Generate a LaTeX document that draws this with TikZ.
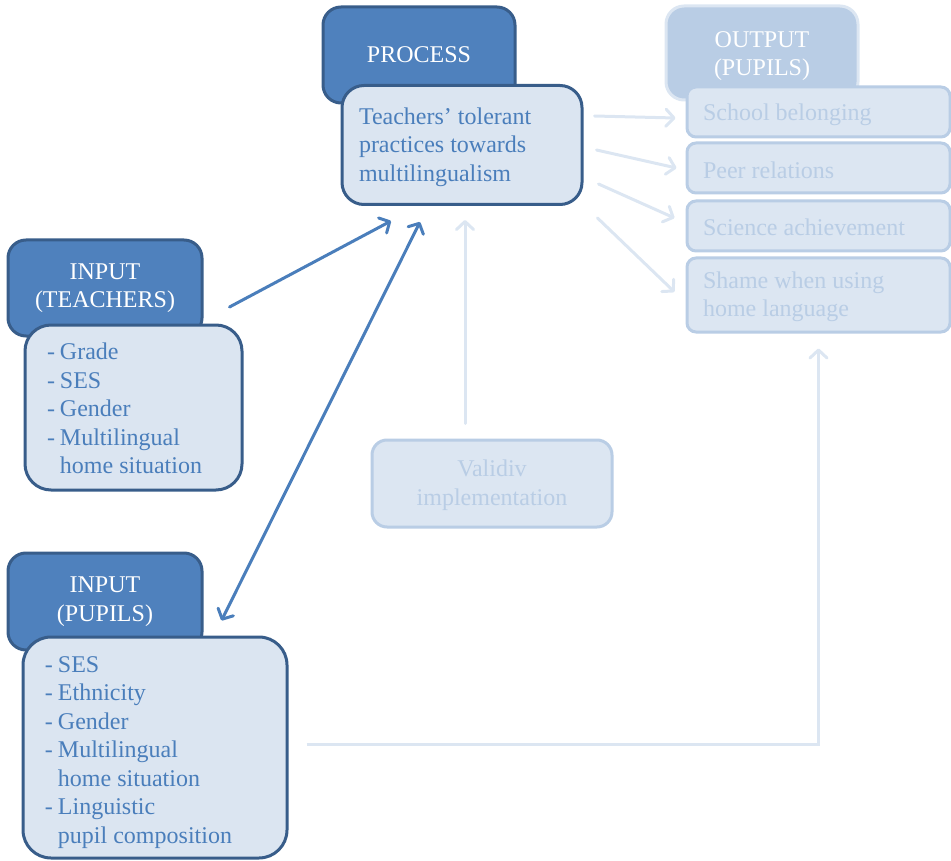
\documentclass[tikz,border=0pt]{standalone}
\usepackage{fontspec}
\setmainfont{Liberation Serif}
\usetikzlibrary{arrows.meta,calc}
\definecolor{hdfill}{HTML}{4F81BD}
\definecolor{hdline}{HTML}{385D8A}
\definecolor{bxfill}{HTML}{DBE5F1}
\definecolor{bxtext}{HTML}{4A7EBB}
\definecolor{fdfill}{HTML}{B9CDE5}
\definecolor{fdline}{HTML}{DCE6F2}
\definecolor{fdtext}{HTML}{B9CDE5}
\newcommand\itm{\makebox[13pt][l]{-}}
\newcommand\cnt{\hspace*{13pt}}
% left-aligned text block of a given width, drawn lower than its box by a given amount
\newcommand\lowblock[3]{\raisebox{-#1}[\height][\depth]{\parbox{#2}{\raggedright #3}}}
\newcommand\lowcenter[2]{\raisebox{-#1}[\height][\depth]{\begin{tabular}{@{}c@{}}#2\end{tabular}}}
\begin{document}
\begin{tikzpicture}[x=1pt,y=-1pt,
  txt/.style={font=\fontsize{24}{28.5}\selectfont},
  header/.style={txt,draw=hdline,fill=hdfill,line width=3pt,rounded corners=18pt,
    text=white,align=center,inner sep=0pt},
  content/.style={txt,draw=hdline,fill=bxfill,line width=3pt,
    text=bxtext,align=left,inner sep=0pt},
  fheader/.style={header,draw=fdline,fill=fdfill},
  fcontent/.style={content,draw=fdfill,fill=fdline,text=fdtext},
  outbox/.style={fcontent,rounded corners=9pt,minimum width=263,minimum height=50},
  link/.style={draw=bxtext,line width=3pt,line cap=round,
    -{Straight Barb[length=8pt,width=17pt,line cap=round,line join=round]}},
  flink/.style={link,draw=fdline}]
\useasboundingbox (0,0) rectangle (951,861);

% process block
\node[header,minimum width=192,minimum height=96] (pdark) at (419,55) {PROCESS};
\node[content,rounded corners=22pt,minimum width=240,minimum height=119]
  (plight) at (462,145) {\lowblock{2pt}{206pt}{Teachers' tolerant\\practices towards\\multilingualism}};

% output block
\node[fheader,minimum width=192,minimum height=94] (odark) at (762,53)
  {\lowcenter{3pt}{OUTPUT\\(PUPILS)}};
\node[outbox] (o1) at (818.5,112) {\lowblock{3pt}{231pt}{School belonging}};
\node[outbox] (o2) at (818.5,168) {\lowblock{2pt}{231pt}{Peer relations}};
\node[outbox] (o3) at (818.5,226) {\lowblock{1pt}{231pt}{Science achievement}};
\node[outbox,minimum height=74] (o4) at (818.5,295)
  {\lowblock{2pt}{231pt}{Shame when using\\home language}};

% teacher input block
\node[header,minimum width=194,minimum height=96] (tdark) at (105,288) {INPUT\\(TEACHERS)};
\node[content,rounded corners=26pt,minimum width=217,minimum height=165]
  (tlight) at (133.5,407.5)
  {\lowblock{1pt}{173pt}{\itm Grade\\\itm SES\\\itm Gender\\\itm Multilingual\\\cnt home situation}};

% pupil input block
\node[header,minimum width=194,minimum height=97] (udark) at (105,601.5) {INPUT\\(PUPILS)};
\node[content,rounded corners=28pt,minimum width=264,minimum height=221]
  (ulight) at (155,747.5)
  {\lowblock{5pt}{220pt}{\itm SES\\\itm Ethnicity\\\itm Gender\\\itm Multilingual\\\cnt home situation\\\itm Linguistic\\\cnt pupil composition}};

% implementation block
\node[fcontent,rounded corners=15pt,minimum width=240,minimum height=87]
  (valid) at (492,483.5) {\lowcenter{2pt}{Validiv\\implementation}};

% connectors
\draw[link] ($(tdark.east)+(26,19)$) -- ($(plight.south)+(-71,15)$);
\draw[link,{Straight Barb[length=8pt,width=17pt,line cap=round,line join=round]}-{Straight Barb[length=8pt,width=17pt,line cap=round,line join=round]}]
  ($(plight.south)+(-42,16)$) -- ($(udark.east)+(18,19)$);
\draw[flink] ($(valid.north)+(-27,-15)$) -- ($(plight.south)+(3,14)$);
\draw[flink] ($(plight.east)+(11,-29)$) -- ($(o1.west)+(-10,6)$);
\draw[flink] ($(plight.east)+(13,5)$) -- ($(o2.west)+(-9,0)$);
\draw[flink] ($(plight.east)+(15,39)$) -- ($(o3.west)+(-11,-8)$);
\draw[flink] ($(plight.east)+(14,73)$) -- ($(o4.west)+(-11,-3)$);
\draw[flink,line cap=butt] ($(ulight.east)+(18,-3.5)$) -| ($(o4.south)+(0,15)$);
\end{tikzpicture}
\end{document}
